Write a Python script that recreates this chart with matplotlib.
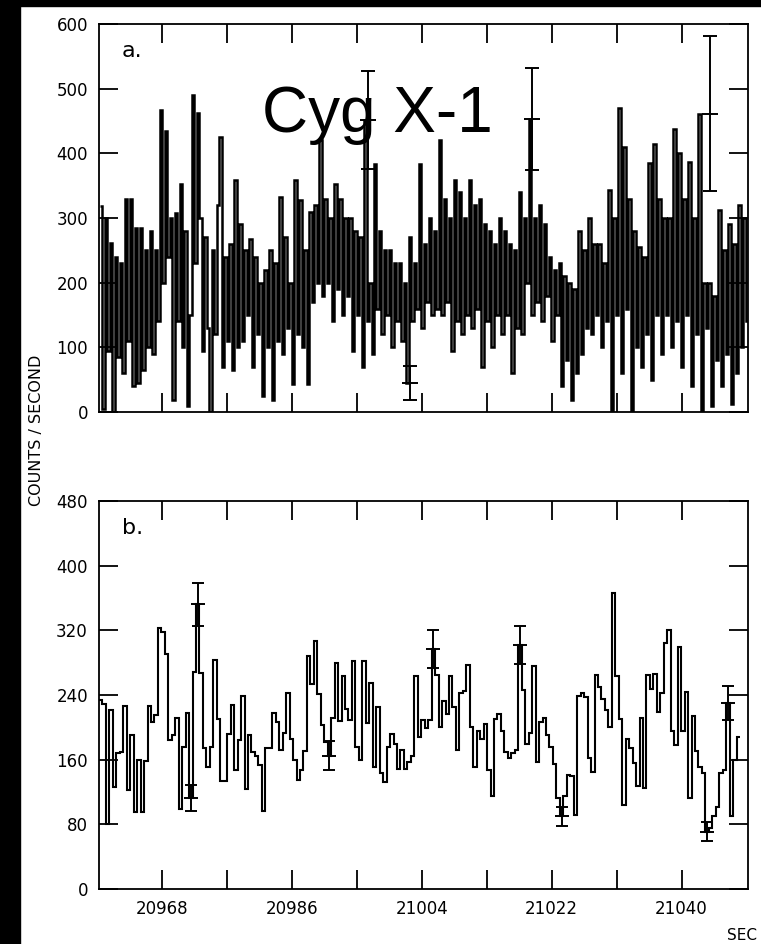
import numpy as np
import matplotlib.pyplot as plt
from matplotlib.patches import Rectangle

# Time axis (seconds)
t_start = 20959.3
t_end_a = 21049.2
t_end_b = 21048.1
xticks = [20968, 20977, 20986, 20995, 21004, 21013, 21022, 21031, 21040]
xlabels = ['20968', '', '20986', '', '21004', '', '21022', '', '21040']

# Panel a: fine-binned counts (alternating peaks / troughs)
counts_a = [
    318, 5, 300, 95, 262, 0, 240, 85, 230, 60, 330, 110, 330, 40, 285, 45,
    285, 65, 250, 100, 280, 90, 250, 140, 467, 200, 435, 240, 300, 18, 307, 140,
    353, 100, 280, 10, 150, 490, 230, 462, 300, 95, 270, 130, 0, 250, 120, 320,
    426, 70, 240, 110, 260, 65, 358, 100, 290, 110, 250, 150, 268, 70, 240, 120,
    200, 24, 220, 100, 250, 18, 230, 110, 333, 90, 270, 130, 200, 44, 358, 120,
    328, 100, 250, 44, 310, 170, 320, 200, 420, 180, 330, 200, 300, 140, 353, 190,
    330, 150, 300, 180, 300, 95, 280, 150, 270, 70, 452, 140, 200, 90, 384, 160,
    280, 120, 250, 150, 250, 100, 230, 140, 230, 110, 200, 45, 270, 140, 230, 160,
    384, 130, 260, 170, 300, 150, 280, 160, 420, 150, 330, 170, 300, 95, 358, 140,
    340, 120, 300, 150, 358, 130, 320, 160, 330, 70, 290, 140, 280, 100, 260, 150,
    300, 120, 280, 150, 260, 60, 250, 130, 340, 120, 300, 200, 453, 150, 300, 170,
    320, 140, 290, 180, 240, 110, 220, 150, 230, 40, 210, 80, 200, 18, 190, 60,
    280, 90, 250, 130, 300, 120, 260, 150, 260, 100, 230, 140, 343, 0, 300, 150,
    470, 60, 410, 160, 330, 0, 280, 100, 255, 70, 240, 120, 385, 50, 415, 150,
    330, 90, 300, 150, 300, 100, 438, 140, 400, 70, 330, 150, 387, 40, 300, 120,
    461, 0, 200, 130, 200, 10, 180, 80, 312, 40, 250, 90, 290, 13, 260, 60,
    320, 100, 300, 140,
]
err_a_t = [20996.6, 21002.4, 21019.3, 21044.0]
err_a_v = [452, 45, 453, 461]
err_a_s = [76, 26, 79, 120]

# Panel b: coarser bins
counts_b = [
    234, 229, 80, 221, 126, 168, 170, 226, 122, 190, 95, 160, 95, 158, 226, 207,
    215, 323, 318, 291, 184, 191, 211, 99, 176, 218, 113, 268, 352, 267, 174, 151,
    176, 283, 210, 134, 134, 192, 228, 147, 184, 239, 124, 191, 169, 165, 154,
    97, 175, 175, 218, 206, 172, 193, 243, 185, 160, 135, 147, 171, 288, 254, 307,
    241, 203, 182, 165, 211, 280, 208, 263, 223, 209, 282, 176, 160, 282, 205, 255,
    151, 225, 143, 132, 176, 192, 180, 149, 172, 149, 157, 164, 263, 188, 209, 199,
    209, 297, 265, 200, 232, 216, 263, 225, 172, 243, 245, 277, 201, 151, 195, 185,
    204, 147, 115, 210, 217, 195, 170, 162, 168, 172, 302, 246, 180, 193, 276, 157,
    207, 211, 190, 176, 155, 113, 90, 115, 141, 140, 91, 239, 243, 238, 162,
    145, 265, 250, 235, 222, 201, 366, 263, 210, 104, 186, 175, 156, 127, 212, 125,
    265, 248, 266, 219, 242, 304, 321, 195, 178, 299, 196, 244, 112, 214, 171, 151,
    143, 71, 75, 90, 102, 143, 147, 230, 90, 160, 188,
]
err_b_idx = [26, 28, 66, 96, 121, 133, 175, 181]
err_b_s = [16, 27, 17.5, 23, 23.5, 12, 12, 21]

fig = plt.figure(figsize=(7.61, 9.44), dpi=100)
W, H = 761, 944

ax1 = fig.add_axes([99 / W, 1 - 412 / H, 649 / W, 388 / H])
ax2 = fig.add_axes([99 / W, 1 - 889 / H, 649 / W, 388 / H])

edges_a = np.linspace(t_start + 0.1, t_end_a, len(counts_a) + 1)
ax1.stairs(counts_a, edges_a, baseline=None, color='k', lw=1.8)
ax1.errorbar(err_a_t, err_a_v, yerr=err_a_s, fmt='_', color='k', ms=12,
             mew=1.4, elinewidth=1.4, capsize=5, capthick=1.4)

edges_b = np.linspace(t_start, t_end_b, len(counts_b) + 1)
ax2.stairs(counts_b, edges_b, baseline=None, color='k', lw=1.5)
centers_b = 0.5 * (edges_b[:-1] + edges_b[1:])
ax2.errorbar(centers_b[err_b_idx], np.array(counts_b)[err_b_idx], yerr=err_b_s,
             fmt='_', color='k', ms=10, mew=1.4, elinewidth=1.4, capsize=4,
             capthick=1.4)

for ax, ymax, step in [(ax1, 600, 100), (ax2, 480, 80)]:
    ax.set_xlim(t_start, t_end_a)
    ax.set_ylim(0, ymax)
    ax.set_yticks(np.arange(0, ymax + 1, step))
    ax.set_xticks(xticks)
    ax.tick_params(direction='in', length=14, width=1.3, top=True, right=True,
                   labelsize=12, pad=8)
    for s in ax.spines.values():
        s.set_linewidth(1.3)

ax1.set_xticklabels([])
ax2.set_xticklabels(xlabels)

ax1.text(0.035, 0.955, 'a.', transform=ax1.transAxes, fontsize=16, va='top')
ax2.text(0.035, 0.955, 'b.', transform=ax2.transAxes, fontsize=16, va='top')

fig.text(262 / W, 1 - 132 / H, 'Cyg X-1', fontsize=46, family='Liberation Sans',
         va='baseline', ha='left')
fig.text(37 / W, 1 - 430 / H, 'COUNTS / SECOND', rotation=90, fontsize=11.5,
         ha='center', va='center')
fig.text(727 / W, 1 - 940 / H, 'SEC', fontsize=11, ha='left', va='baseline')

# black scan border
fig.patches.append(Rectangle((0, 0), 20 / W, 1, transform=fig.transFigure,
                             color='k', zorder=10))
fig.patches.append(Rectangle((0, 1 - 6 / H), 1, 6 / H, transform=fig.transFigure,
                             color='k', zorder=10))

fig.savefig('out.png', dpi=100)
